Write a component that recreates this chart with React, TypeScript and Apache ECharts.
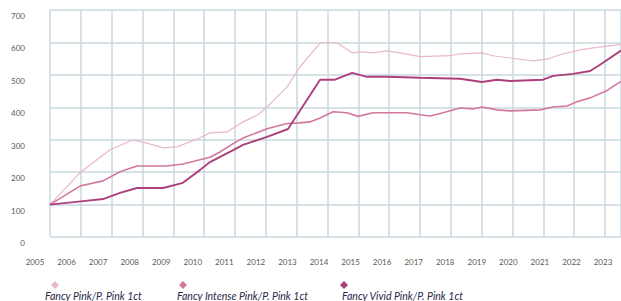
import React, { useEffect, useRef } from "react";
import * as echarts from "echarts";

const yearLabels = [
  "2005", "2006", "2007", "2008", "2009", "2010", "2011", "2012", "2013", "2014",
  "2015", "2016", "2017", "2018", "2019", "2020", "2021", "2022", "2023",
];

const seriesNames = [
  "Fancy Pink/P. Pink 1ct",
  "Fancy Intense Pink/P. Pink 1ct",
  "Fancy Vivid Pink/P. Pink 1ct",
];

const pinkT = [
  2005.0, 2005.97, 2006.52, 2006.95, 2007.69, 2008.2, 2008.67, 2009.12, 2009.87, 2010.19,
  2010.74, 2011.26, 2011.75, 2012.04, 2012.69, 2013.11, 2013.66, 2013.76, 2014.31, 2014.8,
  2015.06, 2015.48, 2015.93, 2016.35, 2017.0, 2017.97, 2018.3, 2019.01, 2019.37, 2019.92,
  2020.67, 2021.15, 2021.54, 2022.19, 2022.84, 2023.52,
];
const pinkV = [
  100, 198, 238, 269, 299, 288, 275, 278, 306, 321,
  324, 355, 377, 401, 463, 525, 586, 599, 599, 568,
  571, 568, 574, 568, 556, 559, 565, 568, 559, 552,
  543, 549, 562, 577, 586, 593,
];

const intenseT = [
  2005.0, 2005.97, 2006.72, 2007.27, 2007.82, 2008.79, 2009.31, 2010.19, 2010.51, 2010.94,
  2011.26, 2012.04, 2012.69, 2013.11, 2013.43, 2013.76, 2014.18, 2014.63, 2014.99, 2015.48,
  2016.03, 2016.58, 2017.0, 2017.33, 2017.75, 2018.3, 2018.72, 2019.01, 2019.5, 2019.92,
  2020.89, 2021.32, 2021.77, 2022.09, 2022.52, 2023.07, 2023.52,
];
const intenseV = [
  100, 157, 173, 201, 219, 219, 225, 246, 262, 288,
  305, 334, 350, 352, 355, 367, 386, 383, 372, 383,
  383, 383, 377, 373, 383, 398, 395, 401, 392, 389,
  392, 401, 404, 417, 429, 452, 480,
];

const vividT = [
  2005.0, 2006.0, 2006.72, 2007.27, 2007.82, 2008.67, 2009.31, 2009.87, 2010.19, 2010.94,
  2011.26, 2012.04, 2012.72, 2013.76, 2014.24, 2014.8, 2015.28, 2015.93, 2017.0, 2018.3,
  2019.01, 2019.5, 2019.92, 2020.99, 2021.32, 2021.96, 2022.52, 2022.84, 2023.52,
];
const vividV = [
  100, 110, 117, 136, 151, 151, 167, 207, 231, 268,
  284, 309, 333, 485, 485, 506, 494, 494, 491, 488,
  478, 485, 481, 485, 497, 503, 512, 531, 575,
];

const colors = ["#e8b8ca", "#d4779f", "#ad3f7c"];
const widths = [1.2, 1.6, 1.9];
const gridColor = "#c9d9dc";
const labelColor = "#5a5a5a";
const legendColor = "#262848";

const legendTextLeft = [40, 172, 337];
const legendIconLeft = [51, 179, 340];

function pairs(t: number[], v: number[]) {
  return t.map((x, i) => [x, v[i]]);
}

export default function App() {
  const ref = useRef<HTMLDivElement>(null);
  useEffect(() => {
    document.body.style.margin = "0";
    const chart = echarts.init(ref.current!, null, { renderer: "svg" });
    const seriesData = [pairs(pinkT, pinkV), pairs(intenseT, intenseV), pairs(vividT, vividV)];
    const legends: any[] = [];
    seriesNames.forEach((name, i) => {
      legends.push({
        data: [name],
        left: legendTextLeft[i],
        top: 290,
        icon: "none",
        itemWidth: 0,
        itemHeight: 10,
        selectedMode: false,
        padding: 0,
        textStyle: {
          fontSize: 10.5,
          fontStyle: "italic",
          fontFamily: "Lato",
          color: legendColor,
        },
      });
      legends.push({
        data: [name],
        left: legendIconLeft[i],
        top: 281,
        icon: "diamond",
        itemWidth: 8,
        itemHeight: 8,
        selectedMode: false,
        padding: 0,
        formatter: () => "",
      });
    });
    chart.setOption({
      animation: false,
      backgroundColor: "#ffffff",
      color: colors,
      legend: legends,
      grid: [
        { left: 50, right: 0, top: 10, bottom: 64 },
        { left: 35, right: 18, top: 10, bottom: 64 },
      ],
      xAxis: [
        {
          type: "value",
          gridIndex: 0,
          min: 2005,
          max: 2023.52,
          interval: 1,
          axisLine: { show: false },
          axisTick: { show: false },
          axisLabel: { show: false },
          splitLine: { show: true, lineStyle: { color: gridColor, width: 1.5 } },
        },
        {
          type: "category",
          gridIndex: 1,
          data: yearLabels,
          boundaryGap: false,
          axisLine: { show: false },
          axisTick: { show: false },
          splitLine: { show: false },
          axisLabel: {
            interval: 0,
            fontSize: 8,
            fontFamily: "Lato",
            color: labelColor,
            margin: 21,
          },
        },
      ],
      yAxis: [
        {
          type: "value",
          gridIndex: 0,
          min: 0,
          max: 700,
          interval: 100,
          axisLine: { show: false },
          axisTick: { show: false },
          axisLabel: {
            fontSize: 8,
            fontFamily: "Lato",
            color: labelColor,
            margin: 25,
            verticalAlign: "top",
            padding: [2, 0, 0, 0],
          },
          splitLine: { show: true, lineStyle: { color: gridColor, width: 1.5 } },
        },
        { type: "value", gridIndex: 1, min: 0, max: 1, show: false },
      ],
      series: seriesNames.map((name, i) => ({
        name,
        type: "line",
        xAxisIndex: 0,
        yAxisIndex: 0,
        data: seriesData[i],
        showSymbol: false,
        symbol: "none",
        lineStyle: { color: colors[i], width: widths[i] },
        itemStyle: { color: colors[i] },
        z: 2 + i,
      })),
    });
    return () => chart.dispose();
  }, []);
  return (
    <div
      ref={ref}
      style={{ position: "absolute", left: 0, top: 0, width: 621, height: 301 }}
    />
  );
}
